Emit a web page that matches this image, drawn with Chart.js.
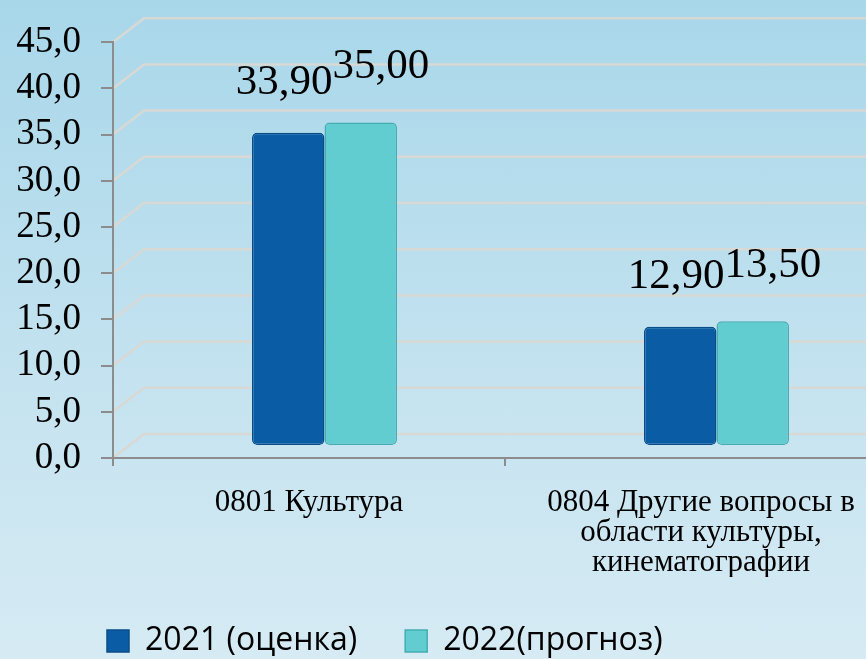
<!DOCTYPE html>
<html>
<head>
<meta charset="utf-8">
<script src="https://cdn.jsdelivr.net/npm/chart.js@4.4.1/dist/chart.umd.min.js"></script>
<style>
  html, body { margin: 0; padding: 0; }
  body {
    width: 866px;
    height: 659px;
    overflow: hidden;
    background: linear-gradient(to bottom, #a8d7ea 0%, #c3e2ef 55%, #d6ebf4 100%);
  }
  /* plot runs past the right edge like in the original slide */
  #wrap { position: relative; width: 900px; height: 659px; }
</style>
</head>
<body>
<div id="wrap"><canvas id="budgetChart"></canvas></div>
<script>
// data
const categories = [
  ['0801 Культура'],
  ['0804 Другие вопросы в', 'области культуры,', 'кинематографии']
];
const seriesNames = ['2021 (оценка)', '2022(прогноз)'];
const values2021 = [33.90, 12.90];
const values2022 = [35.00, 13.50];
const yMin = 0;
const yMax = 45;
const yStep = 5;

const SERIF = "'Liberation Serif', 'Times New Roman', serif";
const SANS = "'Open Sans', 'Noto Sans', sans-serif";

// fake 3d: back wall sits up and to the right of the axes, bars half way
const DEPTH_X = 31;
const DEPTH_Y = -24;

const fmt = (v, d) => v.toFixed(d).replace('.', ',');

const pseudo3d = {
  id: 'pseudo3d',
  beforeDraw(chart) {
    const {ctx, scales: {x, y}} = chart;
    ctx.save();
    ctx.strokeStyle = '#d8d8d4';
    ctx.lineWidth = 2.5;
    y.ticks.forEach((t, i) => {
      const py = y.getPixelForTick(i);
      ctx.beginPath();
      ctx.moveTo(x.left, py);
      ctx.lineTo(x.left + DEPTH_X, py + DEPTH_Y);
      ctx.lineTo(chart.width + 40, py + DEPTH_Y);
      ctx.stroke();
    });
    ctx.restore();
  },
  beforeDatasetsDraw(chart) {
    chart.ctx.save();
    chart.ctx.translate(DEPTH_X / 2, DEPTH_Y / 2);
  },
  afterDatasetsDraw(chart, args, opts) {
    const ctx = chart.ctx;
    ctx.restore();
    ctx.save();
    ctx.fillStyle = '#000';
    ctx.font = opts.font;
    ctx.textAlign = 'center';
    ctx.textBaseline = 'middle';
    chart.data.datasets.forEach((ds, di) => {
      const off = opts.offsets[di];
      chart.getDatasetMeta(di).data.forEach((bar, i) => {
        ctx.fillText(fmt(ds.data[i], 2),
          bar.x + DEPTH_X / 2 + off.dx,
          bar.y + DEPTH_Y / 2 + off.dy);
      });
    });
    ctx.restore();
  }
};

const legendPlace = {
  id: 'legendPlace',
  afterLayout(chart, args, opts) {
    const lg = chart.legend;
    const pad = lg.options.labels.padding;
    lg.left = opts.startX - pad;
    lg.right = lg.left + lg.width;
  }
};

const ctx = document.getElementById('budgetChart').getContext('2d');
const chart = new Chart(ctx, {
  type: 'bar',
  data: {
    labels: categories,
    datasets: [{
      label: seriesNames[0],
      data: values2021,
      backgroundColor: '#0a5da4',
      borderColor: '#084c88',
      borderWidth: 1.5,
      borderRadius: 5,
      borderSkipped: false
    }, {
      label: seriesNames[1],
      data: values2022,
      backgroundColor: '#62cdd1',
      borderColor: '#43adb3',
      borderWidth: 1.5,
      borderRadius: 5,
      borderSkipped: false
    }]
  },
  options: {
    responsive: true,
    maintainAspectRatio: false,
    animation: false,
    devicePixelRatio: 1,
    datasets: {
      bar: { categoryPercentage: 0.37, barPercentage: 1.0 }
    },
    layout: {
      padding: { left: 0, top: 36, right: 3, bottom: -8 }
    },
    scales: {
      x: {
        afterFit: (scale) => { scale.height = 119; },
        ticks: {
          color: '#000',
          maxRotation: 0,
          autoSkip: false,
          padding: 22,
          font: { family: SERIF, size: 31, lineHeight: 30 / 31 }
        },
        grid: { drawOnChartArea: false, tickLength: 8, color: '#8c8c8c', lineWidth: 2 },
        border: { color: '#8c8c8c', width: 2 }
      },
      y: {
        min: yMin,
        max: yMax,
        afterFit: (scale) => { scale.width = 113; },
        ticks: {
          stepSize: yStep,
          autoSkip: false,
          color: '#000',
          padding: 20,
          font: { family: SERIF, size: 37 },
          callback: (v) => fmt(v, 1)
        },
        grid: { drawOnChartArea: false, tickLength: 12, color: '#8c8c8c', lineWidth: 2 },
        border: { color: '#8c8c8c', width: 2 }
      }
    },
    plugins: {
      tooltip: { enabled: false },
      legend: {
        position: 'bottom',
        align: 'start',
        labels: {
          color: '#000',
          boxWidth: 22,
          boxHeight: 22,
          padding: 48,
          font: { family: SANS, size: 32 }
        }
      },
      legendPlace: { startX: 107 },
      pseudo3d: {
        font: '43px ' + SERIF,
        offsets: [{ dx: -4, dy: -50 }, { dx: 20, dy: -56 }]
      }
    }
  },
  plugins: [pseudo3d, legendPlace]
});
</script>
</body>
</html>
